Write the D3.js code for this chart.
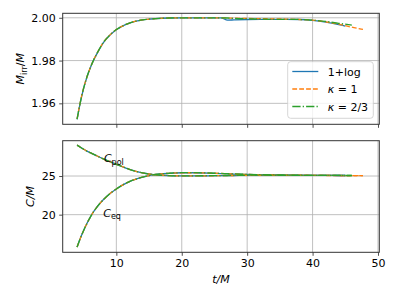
<!DOCTYPE html>
<html>
<head>
<meta charset="utf-8">
<script src="https://cdn.jsdelivr.net/npm/d3@7"></script>
<style>
  body { margin: 0; background: #fff; }
  svg { font-family: "DejaVu Sans", sans-serif; }
</style>
</head>
<body>
<svg id="chart" width="399" height="299"></svg>
<script>
// time grid shared by the three runs, each run ends a bit differently
const tBase = [4, 4.5, 5, 5.5, 6, 6.5, 7, 8, 9, 10, 11, 12, 13, 14, 15, 16, 18, 20, 22, 24, 26, 27, 28, 30, 32, 34, 36, 38, 40, 42, 44];
const tLog = tBase.concat([45]);
const tK1 = tBase.concat([45, 46, 47, 47.7]);
const tK23 = tBase.concat([45, 46]);

// irreducible mass
const mirrLog = [1.9525, 1.9605, 1.9670, 1.9722, 1.9764, 1.9800, 1.9830, 1.9883, 1.9918, 1.9944, 1.9962, 1.9975, 1.9984, 1.9990, 1.9994, 1.9996, 1.9999, 2.0000, 2.0000, 2.0000, 2.0000,
  1.9989, 1.9990, 1.9992, 1.9993, 1.9993, 1.9993, 1.9992, 1.9988, 1.9980, 1.9968, 1.9961];
const mirrK1 = [1.9527, 1.9607, 1.9672, 1.9723, 1.9765, 1.9801, 1.9831, 1.9884, 1.9919, 1.9945, 1.9962, 1.9975, 1.9984, 1.9990, 1.9994, 1.9996, 1.9999, 2.0000, 2.0000, 2.0000, 2.0000,
  1.9999, 1.9998, 1.9997, 1.9996, 1.9995, 1.9994, 1.9992, 1.9989, 1.9981, 1.9970, 1.9963, 1.9956, 1.9950, 1.9946];
const mirrK23 = [1.9526, 1.9606, 1.9671, 1.9723, 1.9765, 1.9801, 1.9831, 1.9884, 1.9919, 1.9945, 1.9962, 1.9975, 1.9984, 1.9990, 1.9994, 1.9996, 1.9999, 2.0000, 2.0000, 2.0000, 2.0000,
  1.9999, 1.9997, 1.9995, 1.9994, 1.9993, 1.9993, 1.9992, 1.9989, 1.9983, 1.9974, 1.9970, 1.9966];

// polar and equatorial circumference
const cpolLog = [29.0, 28.72, 28.46, 28.22, 28.02, 27.83, 27.62, 27.22, 26.86, 26.52, 26.18, 25.87, 25.61, 25.41, 25.26, 25.16, 25.06, 25.02, 25.02, 25.03, 25.05,
  25.06, 25.07, 25.1, 25.1, 25.1, 25.1, 25.09, 25.08, 25.08, 25.07, 25.07];
const cpolK1 = [29.0, 28.72, 28.46, 28.22, 28.02, 27.83, 27.62, 27.22, 26.86, 26.52, 26.18, 25.87, 25.61, 25.41, 25.26, 25.16, 25.06, 25.02, 25.02, 25.03, 25.05,
  25.06, 25.07, 25.09, 25.1, 25.1, 25.09, 25.09, 25.08, 25.07, 25.06, 25.06, 25.05, 25.05, 25.04];
const cpolK23 = [29.0, 28.72, 28.46, 28.22, 28.02, 27.83, 27.62, 27.22, 26.86, 26.52, 26.18, 25.87, 25.61, 25.41, 25.26, 25.16, 25.06, 25.02, 25.03, 25.04, 25.06,
  25.07, 25.08, 25.1, 25.11, 25.1, 25.1, 25.09, 25.09, 25.08, 25.08, 25.07, 25.07];
const ceqLog = [15.8, 16.95, 17.95, 18.85, 19.65, 20.35, 20.95, 21.92, 22.7, 23.33, 23.85, 24.28, 24.6, 24.85, 25.05, 25.2, 25.35, 25.42, 25.42, 25.38, 25.32,
  25.28, 25.25, 25.2, 25.16, 25.13, 25.11, 25.1, 25.09, 25.08, 25.07, 25.07];
const ceqK1 = [15.8, 16.95, 17.95, 18.85, 19.65, 20.35, 20.95, 21.92, 22.7, 23.33, 23.85, 24.28, 24.6, 24.85, 25.05, 25.2, 25.35, 25.42, 25.42, 25.38, 25.33,
  25.29, 25.26, 25.2, 25.16, 25.13, 25.11, 25.1, 25.09, 25.08, 25.07, 25.06, 25.06, 25.05, 25.05];
const ceqK23 = [15.8, 16.95, 17.95, 18.85, 19.65, 20.35, 20.95, 21.92, 22.7, 23.33, 23.85, 24.28, 24.6, 24.85, 25.05, 25.2, 25.35, 25.43, 25.43, 25.39, 25.33,
  25.3, 25.27, 25.21, 25.17, 25.14, 25.12, 25.1, 25.09, 25.08, 25.08, 25.07, 25.07];

const seriesNames = ["1+log", "\u03ba = 1", "\u03ba = 2/3"];
const xTicks = [10, 20, 30, 40, 50];
const mTicks = [1.96, 1.98, 2.00];
const cTicks = [20, 25];

const runs = [
  {name: seriesNames[0], t: tLog, m: mirrLog, pol: cpolLog, eq: ceqLog, color: "#1f77b4", dash: null},
  {name: seriesNames[1], t: tK1, m: mirrK1, pol: cpolK1, eq: ceqK1, color: "#ff7f0e", dash: "4.8,2.1"},
  {name: seriesNames[2], t: tK23, m: mirrK23, pol: cpolK23, eq: ceqK23, color: "#2ca02c", dash: "8.3,2.1,1.3,2.1"}
];

const svg = d3.select("#chart");
const left = 62.7, right = 379.3;
const top1 = 13.3, bot1 = 124.3, top2 = 140.7, bot2 = 252.3;

const x = d3.scaleLinear().domain([1.8, 50.2]).range([left, right]);
const yM = d3.scaleLinear().domain([1.9502, 2.0021]).range([bot1, top1]);
const yC = d3.scaleLinear().domain([15.13, 29.57]).range([bot2, top2]);

function panel(y, top, bot, yTicks, fmt, showX) {
  const g = svg.append("g");
  // grid
  g.selectAll(".gx").data(xTicks.filter(d => x(d) < right - 1)).enter().append("line")
    .attr("x1", d => x(d)).attr("x2", d => x(d)).attr("y1", top).attr("y2", bot)
    .attr("stroke", "#b0b0b0").attr("stroke-width", 0.8);
  g.selectAll(".gy").data(yTicks).enter().append("line")
    .attr("x1", left).attr("x2", right).attr("y1", d => y(d)).attr("y2", d => y(d))
    .attr("stroke", "#b0b0b0").attr("stroke-width", 0.8);

  const ax = g.append("g").attr("transform", `translate(0,${bot})`)
    .call(d3.axisBottom(x).tickValues(xTicks).tickSize(3.5).tickPadding(3).tickFormat(showX ? d3.format("d") : ""));
  const ay = g.append("g").attr("transform", `translate(${left},0)`)
    .call(d3.axisLeft(y).tickValues(yTicks).tickSize(3.5).tickPadding(3.5).tickFormat(fmt));
  [ax, ay].forEach(a => {
    a.select(".domain").remove();
    a.selectAll("line").attr("stroke", "#222").attr("stroke-width", 0.8);
    a.selectAll("text").attr("fill", "#000").style("font-size", "11px").style("font-family", "DejaVu Sans");
  });
  return g;
}

function frame(top, bot) {
  svg.append("rect").attr("x", left).attr("y", top).attr("width", right - left).attr("height", bot - top)
    .attr("fill", "none").attr("stroke", "#333").attr("stroke-width", 1);
}

panel(yM, top1, bot1, mTicks, d3.format(".2f"), false);
panel(yC, top2, bot2, cTicks, d3.format("d"), true);

function drawLine(t, v, y, r) {
  const line = d3.line().x((d, i) => x(t[i])).y(d => y(d)).curve(d3.curveMonotoneX);
  svg.append("path").datum(v).attr("d", line)
    .attr("fill", "none").attr("stroke", r.color).attr("stroke-width", 1.3)
    .attr("stroke-dasharray", r.dash);
}

runs.forEach(r => drawLine(r.t, r.m, yM, r));
runs.forEach(r => {
  drawLine(r.t, r.pol, yC, r);
  drawLine(r.t, r.eq, yC, r);
});

frame(top1, bot1);
frame(top2, bot2);

// curve labels
function clabel(sub, t, cy) {
  const txt = svg.append("text").attr("x", x(t)).attr("y", cy).style("font-size", "11px");
  txt.append("tspan").text("C").style("font-style", "italic");
  txt.append("tspan").text(sub).attr("dy", 2.5).style("font-size", "8px");
}
clabel("pol", 8.1, 162);
clabel("eq", 8.0, 216.7);

// axis titles
const yl1 = svg.append("text").attr("transform", `translate(24,${(top1 + bot1) / 2}) rotate(-90)`)
  .attr("text-anchor", "middle").style("font-size", "11px");
yl1.append("tspan").text("M").style("font-style", "italic");
yl1.append("tspan").text("irr").attr("dy", 2.5).style("font-size", "8px");
yl1.append("tspan").text("/").attr("dy", -2.5);
yl1.append("tspan").text("M").style("font-style", "italic");

svg.append("text").attr("transform", `translate(34,${(top2 + bot2) / 2}) rotate(-90)`)
  .attr("text-anchor", "middle").style("font-size", "11px").style("font-style", "italic").text("C/M");

svg.append("text").attr("x", (left + right) / 2).attr("y", 283)
  .attr("text-anchor", "middle").style("font-size", "11px").style("font-style", "italic").text("t/M");

// legend
const lg = svg.append("g");
lg.append("rect").attr("x", 287.7).attr("y", 61.7).attr("width", 85.6).attr("height", 56.6)
  .attr("rx", 3).attr("fill", "#fff").attr("fill-opacity", 0.8).attr("stroke", "#ccc").attr("stroke-width", 0.8);
const rowY = [71.5, 89, 106.5];
runs.forEach((r, i) => {
  lg.append("line").attr("x1", 292.3).attr("x2", 318.3).attr("y1", rowY[i]).attr("y2", rowY[i])
    .attr("stroke", r.color).attr("stroke-width", 1.3).attr("stroke-dasharray", r.dash);
  const tx = lg.append("text").attr("x", 327.7).attr("y", rowY[i] + 4).style("font-size", "11px");
  if (i === 0) tx.text(r.name);
  else {
    tx.append("tspan").text("\u03ba").style("font-style", "italic");
    tx.append("tspan").text(r.name.slice(1));
  }
});
</script>
</body>
</html>
